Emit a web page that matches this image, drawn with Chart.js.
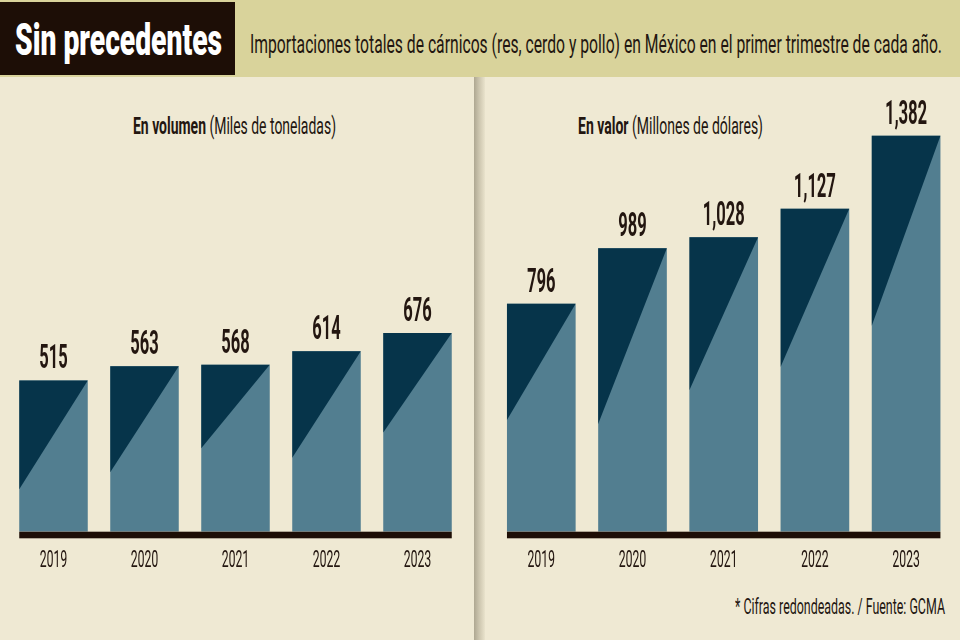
<!DOCTYPE html>
<html><head><meta charset="utf-8">
<script src="https://cdn.jsdelivr.net/npm/chart.js@4"></script>
<style>
html,body{margin:0;padding:0;}
body{width:960px;height:640px;position:relative;overflow:hidden;background:#efe9d3;font-family:Roboto,'Liberation Sans',sans-serif;}
#band{position:absolute;left:0;top:0;width:960px;height:77px;background:#d9d39b;}
#titlebox{position:absolute;left:0;top:2px;width:235px;height:73px;background:#1d0e06;}
.t{position:absolute;white-space:nowrap;line-height:1;transform-origin:0 0;color:#231610;}
#title{left:15px;top:17px;font-size:45px;font-weight:900;color:#fff;}
#subtitle{left:250px;top:31px;font-size:26px;}
#ptl{left:133px;top:115px;font-size:23px;}
#ptr{left:578px;top:115px;font-size:23px;}
#foot{left:735px;top:596px;font-size:22px;}
#divider{position:absolute;left:474px;top:77px;width:11px;height:563px;background:linear-gradient(to right,#aea791,#cbc4ad 45%,#e9e3cc);}
.cw{position:absolute;top:80px;width:952px;height:520px;transform:scaleX(0.5);transform-origin:0 0;}
#c1wrap{left:0;}
#c2wrap{left:484px;}
</style></head>
<body>
<div id="band"></div>
<div id="titlebox"></div>
<div id="divider"></div>
<div class="t" id="title">Sin precedentes</div>
<div class="t" id="subtitle">Importaciones totales de cárnicos (res, cerdo y pollo) en México en el primer trimestre de cada año.</div>
<div class="t" id="ptl"><b>En volumen</b> (Miles de toneladas)</div>
<div class="t" id="ptr"><b>En valor</b> (Millones de dólares)</div>
<div class="t" id="foot">* Cifras redondeadas. / Fuente: GCMA</div>
<div class="cw" id="c1wrap"><canvas id="c1" width="952" height="520"></canvas></div>
<div class="cw" id="c2wrap"><canvas id="c2" width="952" height="520"></canvas></div>
<script>
// ---- data ----
const years = ['2019', '2020', '2021', '2022', '2023'];
const volumen = [515, 563, 568, 614, 676];     // Miles de toneladas
const valor = [796, 989, 1028, 1127, 1382];    // Millones de dólares

// ---- style: share of each bar's left edge covered by the dark triangle ----
const diagVolumen = [0.72, 0.64, 0.50, 0.59, 0.50];
const diagValor = [0.51, 0.62, 0.52, 0.49, 0.48];

const DARK = '#06344a', LIGHT = '#527e90', INK = '#231610', RULE = '#1d0e06';

function fitText(id, targetW, rightEdge) {
  const el = document.getElementById(id);
  const w = el.getBoundingClientRect().width;
  el.style.transform = 'scaleX(' + (targetW / w) + ')';
  if (rightEdge !== undefined) el.style.left = (rightEdge - targetW) + 'px';
}
fitText('title', 207);
fitText('subtitle', 692);
fitText('ptl', 203);
fitText('ptr', 185);
fitText('foot', 210, 945);

// dark diagonal triangles, value labels and the base rule
const deco = {
  id: 'barDeco',
  afterDatasetsDraw(chart, args, opts) {
    const ctx = chart.ctx;
    const meta = chart.getDatasetMeta(0);
    const ds = chart.data.datasets[0];
    ctx.save();
    meta.data.forEach((bar, i) => {
      const p = bar.getProps(['x', 'y', 'base', 'width'], true);
      const l = p.x - p.width / 2, r = p.x + p.width / 2, h = p.base - p.y;
      ctx.fillStyle = DARK;
      ctx.beginPath();
      ctx.moveTo(l, p.y); ctx.lineTo(r, p.y); ctx.lineTo(l, p.y + h * opts.diag[i]);
      ctx.closePath(); ctx.fill();
      ctx.font = 'bold 33px Roboto';
      ctx.fillStyle = INK;
      ctx.textAlign = 'center';
      ctx.textBaseline = 'alphabetic';
      ctx.fillText(ds.data[i].toLocaleString('en-US'), p.x, p.y - 12);
    });
    const f = meta.data[0], g = meta.data[meta.data.length - 1];
    const x0 = f.x - f.width / 2, x1 = g.x + g.width / 2;
    ctx.fillStyle = RULE;
    ctx.fillRect(x0, chart.chartArea.bottom, x1 - x0, 6.6);
    ctx.restore();
  }
};

function makeChart(id, values, yMax, pad, diag) {
  return new Chart(document.getElementById(id), {
    type: 'bar',
    data: { labels: years, datasets: [{ data: values, backgroundColor: LIGHT, borderWidth: 0,
      barPercentage: 0.753, categoryPercentage: 1 }] },
    options: {
      responsive: false, animation: false, devicePixelRatio: 1,
      layout: { padding: pad },
      plugins: { legend: { display: false }, tooltip: { enabled: false }, barDeco: { diag: diag } },
      scales: {
        x: { grid: { display: false, drawTicks: false }, border: { display: false },
             ticks: { color: INK, padding: 14, font: { family: 'Roboto', size: 24.5 } },
             afterFit(s) { s.height = 68.3; } },
        y: { display: false, min: 0, max: yMax }
      }
    },
    plugins: [deco]
  });
}

makeChart('c1', volumen, 1197, { left: 16, right: 26, top: 100, bottom: 0 }, diagVolumen);
makeChart('c2', valor, 1437, { left: 23.4, right: 16.6, top: 40, bottom: 0 }, diagValor);
</script>
</body></html>
